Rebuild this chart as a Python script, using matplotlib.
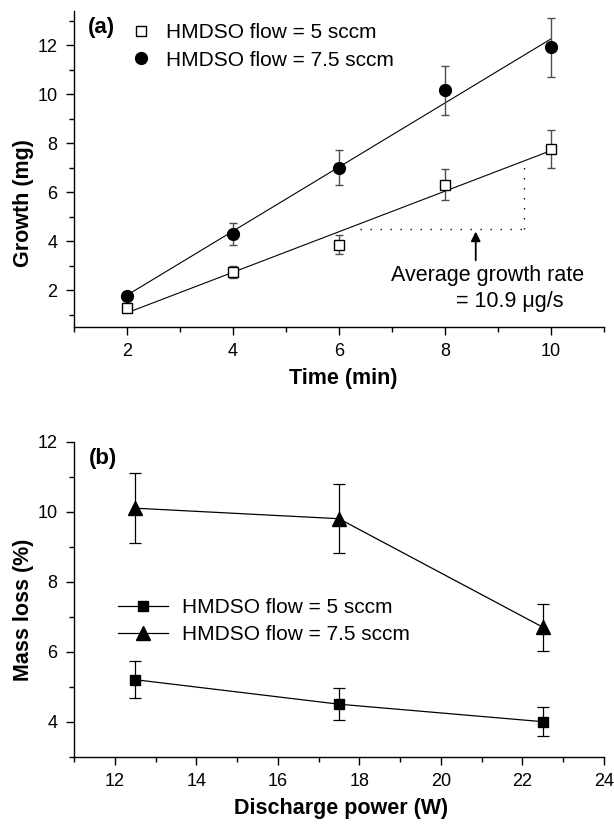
import numpy as np
import matplotlib
matplotlib.use("Agg")
import matplotlib.pyplot as plt
from matplotlib.lines import Line2D
from matplotlib.ticker import MultipleLocator

plt.rcParams['font.family'] = ['Liberation Sans', 'DejaVu Sans']

# (a) growth vs time
time_min = [2, 4, 6, 8, 10]
growth_5 = [1.25, 2.75, 3.85, 6.3, 7.75]
err_5 = [0.15, 0.25, 0.38, 0.62, 0.78]
growth_75 = [1.75, 4.3, 7.0, 10.15, 11.9]
err_75 = [0.15, 0.45, 0.7, 1.0, 1.2]

# (b) mass loss vs discharge power
power_w = [12.5, 17.5, 22.5]
loss_5 = [5.2, 4.5, 4.0]
loss_err_5 = [0.52, 0.45, 0.41]
loss_75 = [10.1, 9.8, 6.7]
loss_err_75 = [1.0, 0.98, 0.67]

labels = ["HMDSO flow = 5 sccm", "HMDSO flow = 7.5 sccm"]

fig = plt.figure(figsize=(6.14, 8.25), dpi=100)
ax1 = fig.add_axes([0.1205, 0.6039, 0.8632, 0.3831])
ax2 = fig.add_axes([0.1205, 0.0828, 0.8632, 0.3818])


def style(ax):
    for s in ['top', 'right']:
        ax.spines[s].set_visible(False)
    for s in ['left', 'bottom']:
        ax.spines[s].set_linewidth(1.0)
    ax.tick_params(which='major', direction='out', length=6, width=1.0,
                   labelsize=13, pad=6)
    ax.tick_params(which='minor', direction='out', length=3.5, width=1.0)
    ax.xaxis.set_minor_locator(MultipleLocator(1))
    ax.yaxis.set_minor_locator(MultipleLocator(1))


# ---- panel (a)
style(ax1)
t = np.array(time_min)
for y, e, mk, fc, ms in [(growth_5, err_5, 's', 'white', 7),
                         (growth_75, err_75, 'o', 'black', 8.5)]:
    ax1.errorbar(time_min, y, yerr=e, fmt=mk, mfc=fc, mec='black', ms=ms,
                 ecolor='0.3', elinewidth=1.0, capsize=3, capthick=1.0,
                 zorder=3)
    k, b = np.polyfit(t, y, 1)
    ax1.plot(t, k * t + b, color='black', lw=0.8, zorder=2)

ax1.set_xlim(1, 11)
ax1.set_ylim(0.5, 13.4)
ax1.xaxis.set_major_locator(MultipleLocator(2))
ax1.yaxis.set_major_locator(MultipleLocator(2))
ax1.set_xlabel("Time (min)", fontsize=15.5, fontweight='bold')
ax1.set_ylabel("Growth (mg)", fontsize=15.5, fontweight='bold')
ax1.xaxis.set_label_coords(0.508, -0.13)
ax1.yaxis.set_label_coords(-0.076, 0.39)

ax1.plot([6.4, 9.5], [4.5, 4.5], color='black', lw=1.0, ls=(0, (1, 6.2)))
ax1.plot([9.5, 9.5], [4.5, 7.2], color='black', lw=1.0, ls=(0, (1, 6.2)))
ax1.annotate("", xy=(8.58, 4.5), xytext=(8.58, 3.1),
             arrowprops=dict(arrowstyle='-|>', color='black', lw=1.3,
                             mutation_scale=14))
ax1.text(8.8, 2.58, "Average growth rate", fontsize=15.5, ha='center', va='center')
ax1.text(9.23, 1.52, "= 10.9 \u03bcg/s", fontsize=15.5, ha='center', va='center')
ax1.text(1.51, 12.73, "(a)", fontsize=16, fontweight='bold',
         ha='center', va='center')

h_a = [Line2D([], [], ls='none', marker='s', mfc='white', mec='black', ms=7),
       Line2D([], [], ls='none', marker='o', mfc='black', mec='black', ms=8.5)]
ax1.legend(h_a, labels, loc='upper left', bbox_to_anchor=(0.106, 0.96),
           frameon=False, fontsize=15, handlelength=1.0, handletextpad=0.72,
           labelspacing=0.4, borderaxespad=0, borderpad=0)

# ---- panel (b)
style(ax2)
ax2.errorbar(power_w, loss_5, yerr=loss_err_5, fmt='-s', color='black',
             ms=7.5, lw=0.9, elinewidth=0.9, capsize=4, capthick=0.9)
ax2.errorbar(power_w, loss_75, yerr=loss_err_75, fmt='-^', color='black',
             ms=10.5, lw=0.9, elinewidth=0.9, capsize=4, capthick=0.9)
ax2.set_xlim(11, 24)
ax2.set_ylim(3, 12)
ax2.xaxis.set_major_locator(MultipleLocator(2))
ax2.yaxis.set_major_locator(MultipleLocator(2))
ax2.set_xlabel("Discharge power (W)", fontsize=15.5, fontweight='bold')
ax2.set_ylabel("Mass loss (%)", fontsize=15.5, fontweight='bold')
ax2.xaxis.set_label_coords(0.503, -0.13)
ax2.yaxis.set_label_coords(-0.076, 0.466)
ax2.text(11.71, 11.53, "(b)", fontsize=16, fontweight='bold',
         ha='center', va='center')

h_b = [Line2D([], [], color='black', lw=0.9, marker='s', ms=7.5),
       Line2D([], [], color='black', lw=0.9, marker='^', ms=10.5)]
ax2.legend(h_b, labels, loc='upper left', bbox_to_anchor=(0.083, 0.504),
           frameon=False, fontsize=15, handlelength=2.4, handletextpad=0.65,
           labelspacing=0.4, borderaxespad=0, borderpad=0)

fig.savefig("out.png", dpi=100)
